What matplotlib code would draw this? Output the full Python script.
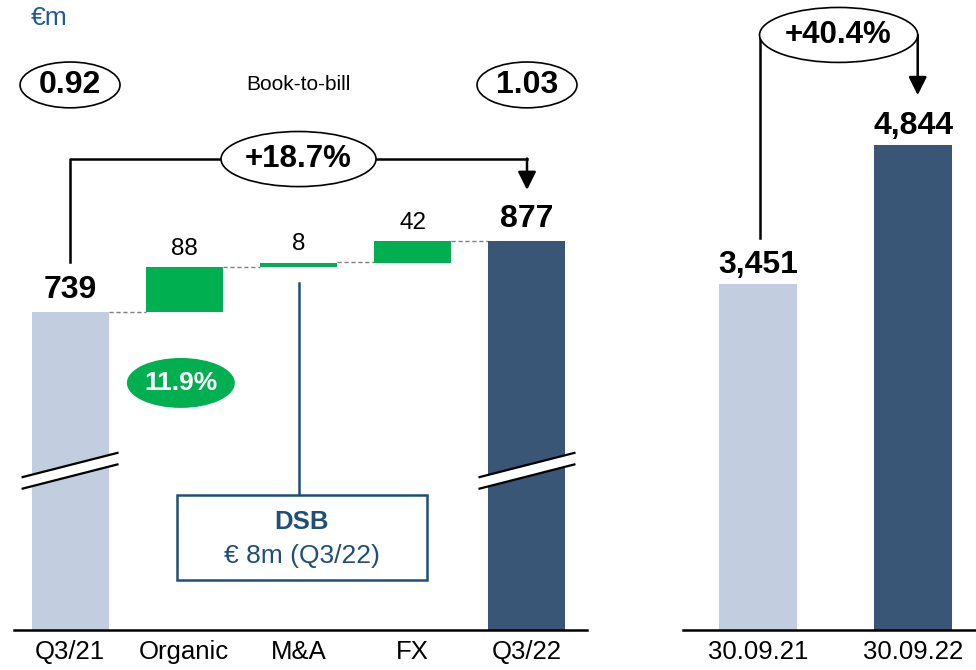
import numpy as np
import matplotlib
matplotlib.use("Agg")
import matplotlib.pyplot as plt
from matplotlib.patches import Ellipse, Rectangle, Polygon

plt.rcParams['font.family'] = ['Liberation Sans', 'DejaVu Sans']

# Данные
categories = ['Q3/21', 'Organic', 'M&A', 'FX', 'Q3/22']
start_value = 739
steps = [88, 8, 42]
end_value = 877
book_to_bill = [0.92, 1.03]
dsb_value = 8

backlog_labels = ['30.09.21', '30.09.22']
backlog = [3451, 4844]

# Цвета
LIGHT = '#C3CDE0'
DARK = '#3A5677'
GREEN = '#00B050'
BLUE = '#1F4E79'
BLUE2 = '#1F5A96'

fig = plt.figure(figsize=(9.76, 6.7), dpi=100)

# ---------- Левая панель: водопад ----------
ax = fig.add_axes([0, 40 / 670, 600 / 976, 630 / 670])
ax.set_xlim(-0.613, 4.639)
ax.set_ylim(121, 1345)
bw = 0.674
x = np.arange(len(categories))

bottoms = [0] + list(start_value + np.cumsum([0] + steps[:-1])) + [0]
heights = [start_value] + steps + [end_value]
colors = [LIGHT] + [GREEN] * len(steps) + [DARK]
ax.bar(x, heights, bottom=bottoms, width=bw, color=colors, zorder=2)

# пунктирные соединители
tops = [b + h for b, h in zip(bottoms, heights)]
for i in range(len(categories) - 1):
    ax.plot([x[i] + bw / 2, x[i + 1] - bw / 2], [tops[i], tops[i]],
            color='#7F7F7F', lw=1, ls=(0, (3, 2)), zorder=1)

# подписи значений
for i, (t, h) in enumerate(zip(tops, heights)):
    if i in (0, len(categories) - 1):
        ax.annotate(f"{h:,}", (x[i], t), xytext=(0, 16), textcoords='offset points',
                    ha='center', va='center', fontsize=23, fontweight='bold')
    else:
        ax.annotate(f"{h:,}", (x[i], t), xytext=(0, 13), textcoords='offset points',
                    ha='center', va='center', fontsize=17.5)

# разрывы на столбцах
for i in (0, len(categories) - 1):
    xs = np.array([x[i] - 0.415, x[i] + 0.415])
    up = 441.6 + np.array([-23.5, 23.5])
    lo = 419.2 + np.array([-23.5, 23.5])
    ax.add_patch(Polygon([[xs[0], lo[0]], [xs[1], lo[1]], [xs[1], up[1]], [xs[0], up[0]]],
                         closed=True, facecolor='white', edgecolor='none', zorder=3))
    ax.plot(xs, up, color='black', lw=1.6, zorder=4)
    ax.plot(xs, lo, color='black', lw=1.6, zorder=4)

# скобка роста
yb = 1036
ax.plot([x[0], x[0], x[-1], x[-1]], [start_value + 97, yb, yb, yb], color='black', lw=1.8, zorder=2)
ax.annotate('', xy=(x[-1], 976), xytext=(x[-1], yb + 1),
            arrowprops=dict(arrowstyle='-|>,head_length=1.1,head_width=0.55', color='black',
                            lw=1.8, shrinkA=0, shrinkB=0, mutation_scale=10))
growth = (end_value / start_value - 1) * 100
ax.add_patch(Ellipse((2, yb), 1.357, 107, facecolor='white', edgecolor='black', lw=1.2, zorder=3))
ax.text(2, yb, f"+{growth:.1f}%", ha='center', va='center', fontsize=22.5, fontweight='bold', zorder=4)

# book-to-bill
ybtb = 1180
for xi, v in zip([x[0], x[-1]], book_to_bill):
    ax.add_patch(Ellipse((xi, ybtb), 0.875, 89, facecolor='white', edgecolor='black', lw=1.2, zorder=3))
    ax.text(xi, ybtb, f"{v:.2f}", ha='center', va='center', fontsize=23, fontweight='bold', zorder=4)
ax.text(2, ybtb, 'Book-to-bill', ha='center', va='center', fontsize=15)

# органический рост
org = steps[0] / start_value * 100
ax.add_patch(Ellipse((0.97, 601), 0.945, 97, facecolor=GREEN, edgecolor='none', zorder=3))
ax.text(0.97, 601, f"{org:.1f}%", ha='center', va='center', fontsize=19,
        fontweight='bold', color='white', zorder=4)

# DSB
ax.plot([x[2], x[2]], [795, 383], color=BLUE, lw=1.8, zorder=2)
ax.add_patch(Rectangle((0.937, 218), 3.125 - 0.937, 383 - 218, facecolor='white',
                       edgecolor=BLUE, lw=1.8, zorder=3))
ax.text(2.03, 331, 'DSB', ha='center', va='center', fontsize=18.5, fontweight='bold', color=BLUE, zorder=4)
ax.text(2.03, 265, f"€ {dsb_value}m (Q3/22)", ha='center', va='center', fontsize=19, color=BLUE, zorder=4)

ax.text(-0.18, 1310, '€m', ha='center', va='center', fontsize=19, color=BLUE2)

for s in ['top', 'right', 'left']:
    ax.spines[s].set_visible(False)
ax.spines['bottom'].set_linewidth(1.8)
ax.spines['bottom'].set_bounds(-0.49, 4.525)
ax.set_yticks([])
ax.set_xticks(x)
ax.set_xticklabels(categories, fontsize=18.5)
ax.tick_params(axis='x', length=0, pad=7)

# ---------- Правая панель: портфель заказов ----------
ax2 = fig.add_axes([600 / 976, 40 / 670, 376 / 976, 630 / 670])
ax2.set_xlim(-1.019, 1.406)
ax2.set_ylim(0, 6292)
x2 = np.arange(len(backlog))
ax2.bar(x2, backlog, width=0.503, color=[LIGHT, DARK], zorder=2)
for xi, v in zip(x2, backlog):
    ax2.annotate(f"{v:,}", (xi, v), xytext=(0, 14), textcoords='offset points',
                 ha='center', va='center', fontsize=23, fontweight='bold')

yb2 = 5943
ax2.plot([0.01, 0.01], [backlog[0] + 460, yb2], color='black', lw=1.8, zorder=2)
ax2.annotate('', xy=(1.03, 5342), xytext=(1.03, yb2),
             arrowprops=dict(arrowstyle='-|>,head_length=1.1,head_width=0.55', color='black',
                             lw=1.8, shrinkA=0, shrinkB=0, mutation_scale=10))
growth2 = (backlog[1] / backlog[0] - 1) * 100
ax2.add_patch(Ellipse((0.52, yb2), 1.02, 549, facecolor='white', edgecolor='black', lw=1.2, zorder=3))
ax2.text(0.52, yb2, f"+{growth2:.1f}%", ha='center', va='center', fontsize=22.5, fontweight='bold', zorder=4)

for s in ['top', 'right', 'left']:
    ax2.spines[s].set_visible(False)
ax2.spines['bottom'].set_linewidth(1.8)
ax2.spines['bottom'].set_bounds(-0.484, 1.406)
ax2.set_yticks([])
ax2.set_xticks(x2)
ax2.set_xticklabels(backlog_labels, fontsize=18.5)
ax2.tick_params(axis='x', length=0, pad=7)

fig.savefig('out.png', dpi=100)
